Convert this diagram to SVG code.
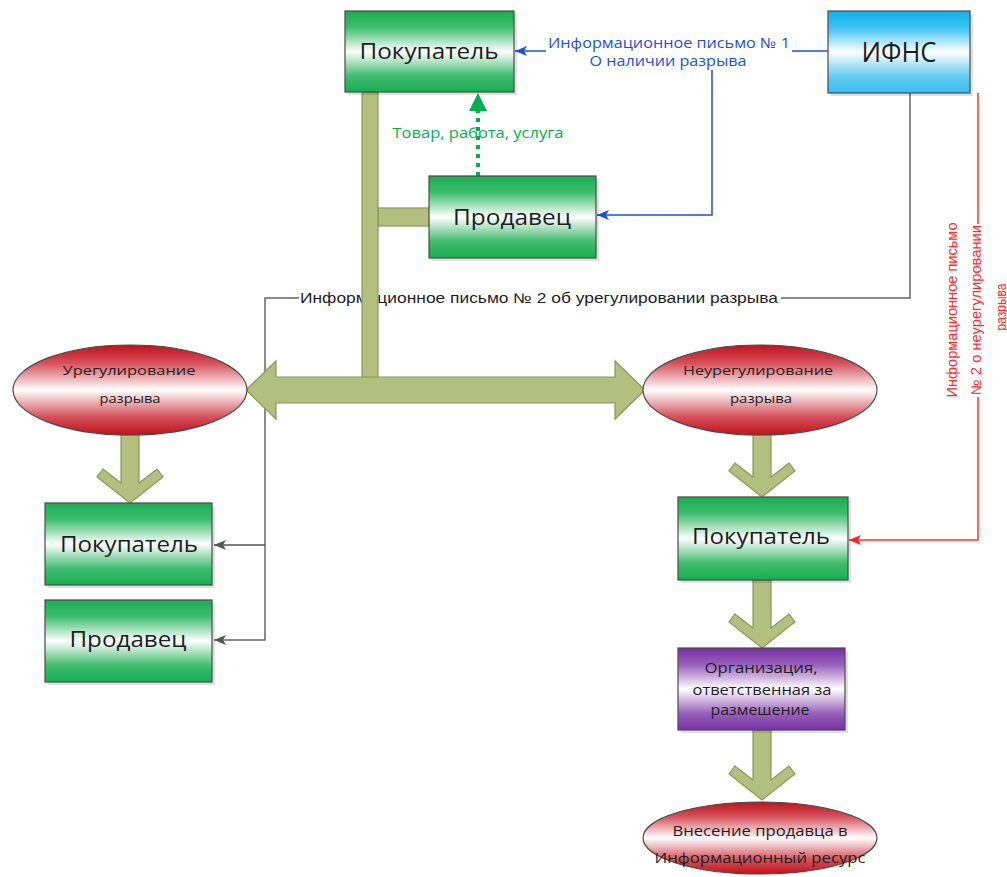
<svg xmlns="http://www.w3.org/2000/svg" width="1007" height="877" viewBox="0 0 1007 877">
<defs>
<linearGradient id="gGreen" x1="0" y1="0" x2="0" y2="1">
<stop offset="0" stop-color="#18ad52"/><stop offset="0.2" stop-color="#3fbd6e"/><stop offset="0.5" stop-color="#ffffff"/><stop offset="0.8" stop-color="#3fbd6e"/><stop offset="1" stop-color="#18ad52"/>
</linearGradient>
<linearGradient id="gBlue" x1="0" y1="0" x2="0" y2="1">
<stop offset="0" stop-color="#0db2ec"/><stop offset="0.2" stop-color="#3ec2f0"/><stop offset="0.5" stop-color="#ffffff"/><stop offset="0.8" stop-color="#62cbf1"/><stop offset="1" stop-color="#3cbdee"/>
</linearGradient>
<linearGradient id="gRed" x1="0" y1="0" x2="0" y2="1">
<stop offset="0" stop-color="#c0121c"/><stop offset="0.2" stop-color="#d5505a"/><stop offset="0.5" stop-color="#ffffff"/><stop offset="0.8" stop-color="#d5505a"/><stop offset="1" stop-color="#c0121c"/>
</linearGradient>
<linearGradient id="gPurple" x1="0" y1="0" x2="0" y2="1">
<stop offset="0" stop-color="#7a2fa6"/><stop offset="0.2" stop-color="#9660ba"/><stop offset="0.5" stop-color="#ffffff"/><stop offset="0.8" stop-color="#9660ba"/><stop offset="1" stop-color="#7a2fa6"/>
</linearGradient>
<marker id="aBlue" markerWidth="12" markerHeight="10" refX="12" refY="5" orient="auto" markerUnits="userSpaceOnUse"><path d="M0,0 L12,5 L0,10 L3,5 Z" fill="#1f4fd8"/></marker>
<marker id="aGray" markerWidth="12" markerHeight="10" refX="12" refY="5" orient="auto" markerUnits="userSpaceOnUse"><path d="M0,0 L12,5 L0,10 L3,5 Z" fill="#555"/></marker>
<marker id="aRed" markerWidth="12" markerHeight="10" refX="12" refY="5" orient="auto" markerUnits="userSpaceOnUse"><path d="M0,0 L12,5 L0,10 L3,5 Z" fill="#ff2020"/></marker>
<marker id="aGreen" markerWidth="16" markerHeight="18" refX="16" refY="9" orient="auto" markerUnits="userSpaceOnUse"><path d="M0,0 L16,9 L0,18 Z" fill="#00b050"/></marker>
</defs>
<style>
.box{stroke:#4a4a4a;stroke-width:1.2}
.sh{fill:#000;opacity:0.12}
.lbl{font-family:"Open Sans","DejaVu Sans",sans-serif;fill:#1e1e1e;text-anchor:middle}
.big{font-size:21px}
.sm{font-size:13.5px}
.olive{fill:#b3bf7f;stroke:#8a9659;stroke-width:1.2}
.cl{font-family:"Open Sans","DejaVu Sans",sans-serif;font-size:14px;text-anchor:middle}
.nar{font-family:"Liberation Sans","DejaVu Sans",sans-serif;font-size:14px;text-anchor:middle}
</style>
<rect width="1007" height="877" fill="#ffffff"/>

<g id="connectors">
<!-- olive structure -->
<rect class="olive" x="378" y="208" width="52" height="18"/>
<!-- gray info letter 2 (behind bar) -->
<path d="M910,93 V298 H781 M299,298 H265 V640 H214" fill="none" stroke="#666" stroke-width="1.5" marker-end="url(#aGray)"/>
<path d="M265,545 H214" fill="none" stroke="#555" stroke-width="1.5" marker-end="url(#aGray)"/>
<text class="nar" x="539" y="303" textLength="478" lengthAdjust="spacingAndGlyphs" fill="#1e1e1e">Информационное письмо № 2 об урегулировании разрыва</text>
<rect class="olive" x="362" y="92" width="16" height="287"/>
<path class="olive" d="M246,390 L276,361 L276,377 L615,377 L615,361 L645,390 L615,419 L615,403 L276,403 L276,419 Z"/>
<!-- down chevron arrows -->
<path class="olive" d="M121,435 V483 L103,469 L97,477 L130,503 L163,477 L157,469 L139,483 V435 Z"/>
<path class="olive" d="M753,435 V477 L735,463 L729,471 L762,497 L795,471 L789,463 L771,477 V435 Z"/>
<path class="olive" d="M753,580 V628 L735,614 L729,622 L762,648 L795,622 L789,614 L771,628 V580 Z"/>
<path class="olive" d="M753,730 V780 L735,766 L729,774 L762,800 L795,774 L789,766 L771,780 V730 Z"/>
<!-- blue info letter 1 -->
<path d="M828,51 H792" fill="none" stroke="#1f4fd8" stroke-width="1.5"/>
<path d="M546,51 H515" fill="none" stroke="#1f4fd8" stroke-width="1.5" marker-end="url(#aBlue)"/>
<path d="M712,70 V215 H597" fill="none" stroke="#1f4fd8" stroke-width="1.5" marker-end="url(#aBlue)"/>
<text class="cl" fill="#1f4fd8"><tspan x="669" y="48" textLength="242" lengthAdjust="spacingAndGlyphs">Информационное письмо № 1</tspan><tspan x="668" y="66" textLength="157" lengthAdjust="spacingAndGlyphs">О наличии разрыва</tspan></text>
<!-- green goods -->
<path d="M478,176 V110" fill="none" stroke="#00b050" stroke-width="4" stroke-dasharray="4 5"/>
<path d="M478,93 L469,111 L487,111 Z" fill="#00b050"/>
<text class="cl" fill="#00b050" x="478" y="138" textLength="171" lengthAdjust="spacingAndGlyphs">Товар, работа, услуга</text>
<!-- red info letter 2 -->
<path d="M978,93 V224 M978,397 V540 H849" fill="none" stroke="#ff3030" stroke-width="1.5" marker-end="url(#aRed)"/>
<g transform="translate(976,310) rotate(-90)">
<text class="nar" fill="#ff2a2a"><tspan x="0" y="-19.5" textLength="175" lengthAdjust="spacingAndGlyphs">Информационное письмо</tspan><tspan x="0" y="4.5" textLength="170" lengthAdjust="spacingAndGlyphs">№ 2 о неурегулировании</tspan><tspan x="3" y="29.5" textLength="47" lengthAdjust="spacingAndGlyphs">разрыва</tspan></text>
</g>
</g>

<g id="buyer-top">
<rect class="sh" x="348" y="14" width="169" height="81"/>
<rect class="box" x="345" y="11" width="169" height="81" fill="url(#gGreen)"/>
<text class="lbl big" x="429" y="59" textLength="139" lengthAdjust="spacingAndGlyphs">Покупатель</text>
</g>

<g id="ifns">
<rect class="sh" x="831" y="14" width="142" height="82"/>
<rect class="box" x="828" y="11" width="142" height="82" fill="url(#gBlue)"/>
<text class="lbl" style="font-size:27px" x="899" y="62" textLength="75" lengthAdjust="spacingAndGlyphs">ИФНС</text>
</g>

<g id="seller-top">
<rect class="sh" x="432" y="179" width="167" height="82"/>
<rect class="box" x="429" y="176" width="167" height="82" fill="url(#gGreen)"/>
<text class="lbl big" x="512" y="225" textLength="118" lengthAdjust="spacingAndGlyphs">Продавец</text>
</g>

<g id="settled">
<ellipse class="box" cx="130" cy="390" rx="117" ry="45" fill="url(#gRed)"/>
<text class="lbl sm"><tspan x="129" y="375" textLength="133" lengthAdjust="spacingAndGlyphs">Урегулирование</tspan><tspan x="130" y="403" textLength="61" lengthAdjust="spacingAndGlyphs">разрыва</tspan></text>
</g>

<g id="unsettled">
<ellipse class="box" cx="760" cy="390" rx="117" ry="45" fill="url(#gRed)"/>
<text class="lbl sm"><tspan x="758" y="375" textLength="150" lengthAdjust="spacingAndGlyphs">Неурегулирование</tspan><tspan x="761" y="403" textLength="62" lengthAdjust="spacingAndGlyphs">разрыва</tspan></text>
</g>

<g id="buyer-left">
<rect class="sh" x="48" y="506" width="167" height="82"/>
<rect class="box" x="45" y="503" width="167" height="82" fill="url(#gGreen)"/>
<text class="lbl big" x="129" y="552" textLength="138" lengthAdjust="spacingAndGlyphs">Покупатель</text>
</g>

<g id="seller-left">
<rect class="sh" x="48" y="603" width="167" height="82"/>
<rect class="box" x="45" y="600" width="167" height="82" fill="url(#gGreen)"/>
<text class="lbl big" x="128" y="647" textLength="117" lengthAdjust="spacingAndGlyphs">Продавец</text>
</g>

<g id="buyer-right">
<rect class="sh" x="681" y="500" width="170" height="83"/>
<rect class="box" x="678" y="497" width="170" height="83" fill="url(#gGreen)"/>
<text class="lbl big" x="761" y="544" textLength="138" lengthAdjust="spacingAndGlyphs">Покупатель</text>
</g>

<g id="org">
<rect class="sh" x="681" y="651" width="167" height="82"/>
<rect class="box" x="678" y="648" width="167" height="82" fill="url(#gPurple)"/>
<text class="lbl" style="font-size:14px"><tspan x="761" y="673" textLength="113" lengthAdjust="spacingAndGlyphs">Организация,</tspan><tspan x="762" y="695" textLength="139" lengthAdjust="spacingAndGlyphs">ответственная за</tspan><tspan x="760" y="715" textLength="99" lengthAdjust="spacingAndGlyphs">размешение</tspan></text>
</g>

<g id="register">
<ellipse class="box" cx="760" cy="838" rx="117" ry="36" fill="url(#gRed)"/>
<text class="lbl" style="font-size:14.5px"><tspan x="760" y="836" textLength="175" lengthAdjust="spacingAndGlyphs">Внесение продавца в</tspan><tspan x="760" y="863" textLength="211" lengthAdjust="spacingAndGlyphs">Информационный ресурс</tspan></text>
</g>
</svg>
